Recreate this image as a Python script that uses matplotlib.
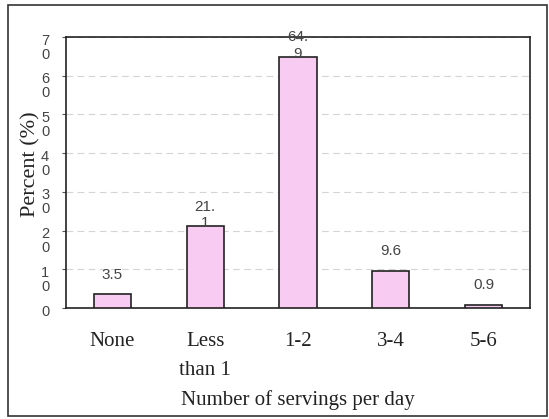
import matplotlib
matplotlib.use("Agg")
import matplotlib.pyplot as plt
from matplotlib.patches import Rectangle
from matplotlib.transforms import ScaledTranslation

categories = ["None", "Less\nthan 1", "1-2", "3-4", "5-6"]
percent = [3.5, 21.1, 64.9, 9.6, 0.9]
bar_labels = ["3.5", "21.\n1", "64.\n9", "9.6", "0.9"]
y_ticks = [0, 10, 20, 30, 40, 50, 60, 70]
y_tick_labels = ["0", "1\n0", "2\n0", "3\n0", "4\n0", "5\n0", "6\n0", "7\n0"]

serif = "Liberation Serif"
sans = "Liberation Sans"

fig = plt.figure(figsize=(5.49, 4.19), dpi=100)
ax = fig.add_axes([66 / 549, 111 / 419, 464 / 549, 271 / 419])

# outer frame around the whole chart
fig.patches.append(Rectangle((8 / 549, 3 / 419), 539 / 549, 411 / 419,
                             transform=fig.transFigure, fill=False,
                             edgecolor="#333333", linewidth=1.2))

x = range(len(categories))
ax.bar(x, percent, width=0.4, color="#f8ccf2", edgecolor="#222222",
       linewidth=1.2, zorder=3)

for xi, val, lab in zip(x, percent, bar_labels):
    ax.annotate(lab, (xi, val), xytext=(0, 19), textcoords="offset points",
                ha="center", va="top", fontsize=11, family=sans,
                color="#444444", linespacing=1.2, zorder=4)

ax.set_xlim(-0.5, 4.5)
ax.set_ylim(0, 70)
ax.set_yticks(y_ticks)
ax.set_yticklabels(y_tick_labels, family=sans, fontsize=10.5, color="#444444",
                   linespacing=1.0, va="top", ha="center")
ax.tick_params(axis="y", length=3, pad=12, color="#555555")
# move the wrapped labels so the first digit sits on the tick
shift = ScaledTranslation(0, 2.5 / 72, fig.dpi_scale_trans)
for t in ax.yaxis.get_majorticklabels():
    t.set_transform(t.get_transform() + shift)

ax.set_xticks(list(x))
ax.set_xticklabels(categories, family=serif, fontsize=15, color="#222222",
                   linespacing=1.75, va="top")
ax.tick_params(axis="x", length=0, pad=17)

ax.yaxis.grid(True, linestyle=(0, (6, 4)), color="#d4d4d4", linewidth=0.8)
ax.set_axisbelow(True)
for s in ax.spines.values():
    s.set_color("#222222")
    s.set_linewidth(1.2)

ax.set_ylabel("Percent (%)", family=serif, fontsize=16, color="#222222",
              va="center")
ax.yaxis.set_label_coords(-0.076, 0.531)
ax.set_xlabel("Number of servings per day", family=serif, fontsize=15,
              color="#222222", va="center")
ax.xaxis.set_label_coords(0.5, -0.339)

fig.savefig("out.png", dpi=100)
